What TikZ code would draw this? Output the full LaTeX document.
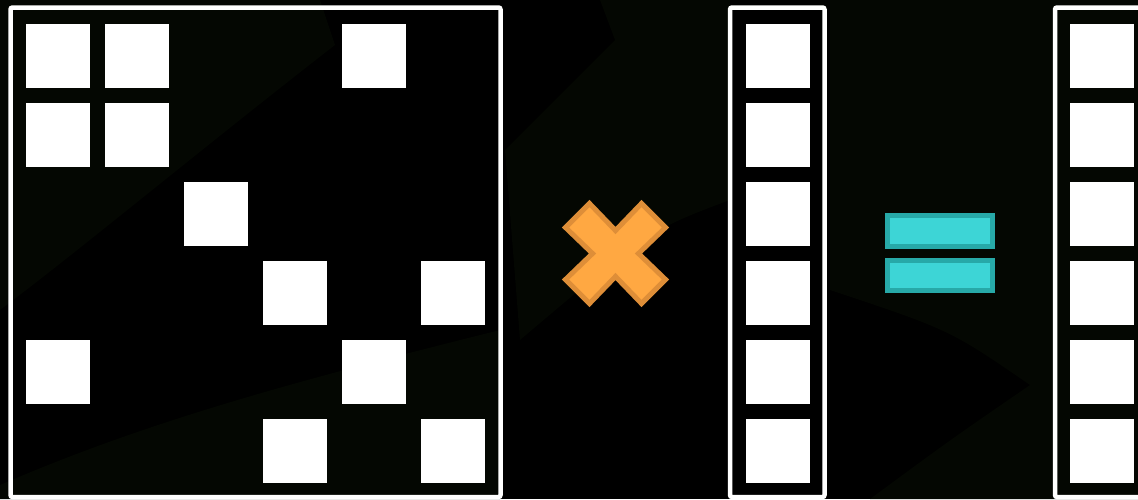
\documentclass[tikz,border=0pt]{standalone}
\definecolor{bgblack}{RGB}{0,0,0}
\definecolor{bggreen}{RGB}{4,7,2}
\definecolor{xfill}{RGB}{255,168,66}
\definecolor{xedge}{RGB}{222,142,56}
\definecolor{eqfill}{RGB}{61,213,214}
\definecolor{eqedge}{RGB}{39,169,168}
\tikzset{
  cell/.style={fill=white, draw=none, minimum size=64pt, inner sep=0pt, outer sep=0pt, anchor=north west},
  frame/.style={draw=white, line width=4.5pt, rounded corners=2pt, inner sep=0pt, minimum height=489.5pt},
  timesmark/.style={fill=xfill, draw=xedge, line width=5pt, line join=miter},
  eqbar/.style={fill=eqfill, draw=eqedge, line width=5pt},
  bgzone/.style={fill=bggreen, draw=none}
}
\begin{document}
\begin{tikzpicture}[x=1pt,y=-1pt]
\useasboundingbox (0,0) rectangle (1138,499);
% background
\fill[bgblack] (0,0) rectangle (1138,499);
\fill[bgzone] (0,0) -- (320,0) -- (335,45) .. controls (200,150) and (80,250) .. (0,310) -- cycle;
\fill[bgzone] (600,0) -- (730,0) -- (730,200) .. controls (650,230) .. (520,340) -- (505,150) -- (615,40) -- cycle;
\fill[bgzone] (830,0) -- (1138,0) -- (1138,499) -- (870,499) .. controls (950,440) .. (1030,385) .. controls (950,330) .. (830,290) -- cycle;
\fill[bgzone] (0,485) .. controls (150,420) and (300,380) .. (500,330) -- (500,499) -- (0,499) -- cycle;
% matrix frame
\node[frame, minimum width=490pt] (M) at (255.5,252.25) {};
% matrix cells: row r, col c -> (26+79c, 24+79r)
\node[cell] (m00) at (26,24) {};
\node[cell] (m01) at (105,24) {};
\node[cell] (m04) at (342,24) {};
\node[cell] (m10) at (26,103) {};
\node[cell] (m11) at (105,103) {};
\node[cell] (m22) at (184,182) {};
\node[cell] (m33) at (263,261) {};
\node[cell] (m35) at (421,261) {};
\node[cell] (m40) at (26,340) {};
\node[cell] (m44) at (342,340) {};
\node[cell] (m53) at (263,419) {};
\node[cell] (m55) at (421,419) {};
% times sign
\coordinate (X) at (615.5,253.5);
\draw[timesmark] ([shift={(0,-23)}]X) -- ([shift={(26,-50)}]X) -- ([shift={(50,-26)}]X)
  -- ([shift={(23,0)}]X) -- ([shift={(50,26)}]X) -- ([shift={(26,50)}]X)
  -- ([shift={(0,23)}]X) -- ([shift={(-26,50)}]X) -- ([shift={(-50,26)}]X)
  -- ([shift={(-23,0)}]X) -- ([shift={(-50,-26)}]X) -- ([shift={(-26,-50)}]X) -- cycle;
% vector frame
\node[frame, minimum width=94.5pt] (V) at (777.25,252.25) {};
\foreach \r in {0,...,5}{
  \node[cell] (v\r) at (746,24+79*\r) {};
}
% equals sign
\draw[eqbar] (887.5,215.8) rectangle (992.5,246.5);
\draw[eqbar] (887.5,260.8) rectangle (992.5,290.8);
% result frame
\node[frame, minimum width=94pt] (R) at (1102,252.25) {};
\foreach \r in {0,...,5}{
  \node[cell] (r\r) at (1070,24+79*\r) {};
}
\end{tikzpicture}
\end{document}
